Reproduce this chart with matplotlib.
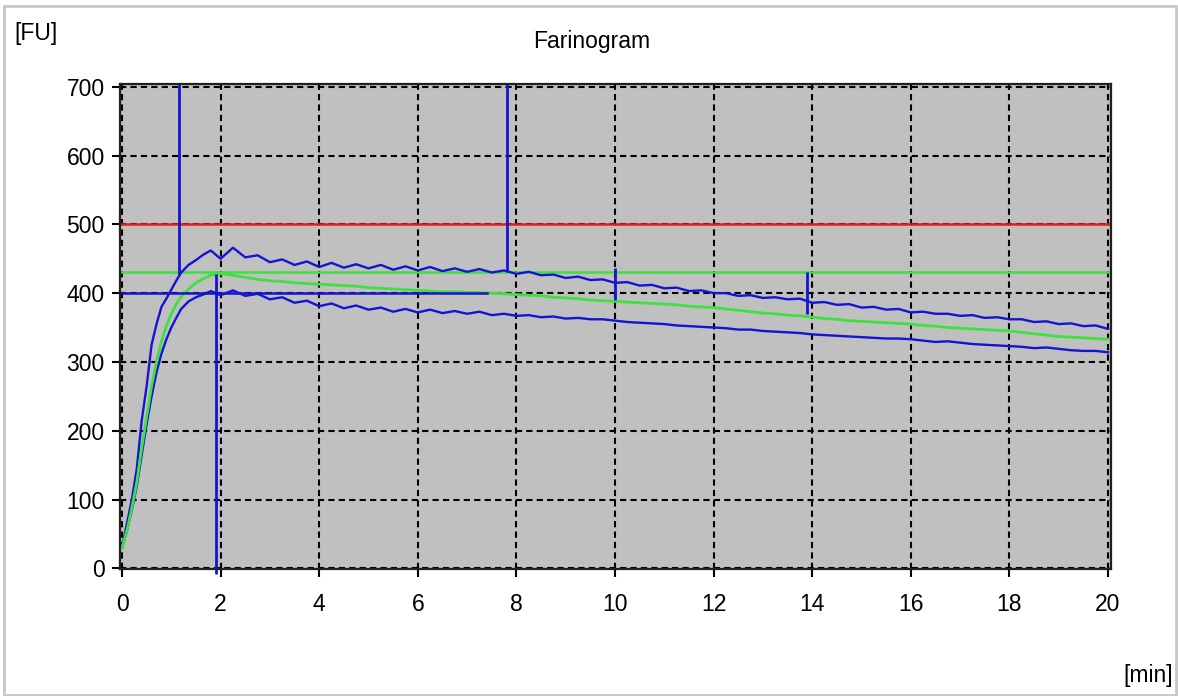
import matplotlib
matplotlib.use("Agg")
import matplotlib.pyplot as plt
from matplotlib.patches import Rectangle

# time axis in minutes
time = [0, 0.1, 0.2, 0.3, 0.4, 0.5, 0.6, 0.7, 0.8, 0.9, 1.0, 1.1, 1.2, 1.35, 1.5, 1.65, 1.8, 2.0,
        2.25, 2.5, 2.75, 3.0, 3.25, 3.5, 3.75, 4.0, 4.25, 4.5, 4.75, 5.0, 5.25, 5.5, 5.75, 6.0,
        6.25, 6.5, 6.75, 7.0, 7.25, 7.5, 7.75, 8.0, 8.25, 8.5, 8.75, 9.0, 9.25, 9.5, 9.75, 10.0,
        10.25, 10.5, 10.75, 11.0, 11.25, 11.5, 11.75, 12.0, 12.25, 12.5, 12.75, 13.0, 13.25, 13.5,
        13.75, 14.0, 14.25, 14.5, 14.75, 15.0, 15.25, 15.5, 15.75, 16.0, 16.25, 16.5, 16.75, 17.0,
        17.25, 17.5, 17.75, 18.0, 18.25, 18.5, 18.75, 19.0, 19.25, 19.5, 19.75, 20.0]

upper = [30, 65, 100, 145, 215, 265, 325, 355, 380, 392, 405, 418, 430, 441, 448, 456, 462, 450,
         466, 452, 455, 445, 449, 441, 446, 438, 444, 437, 442, 436, 441, 434, 439, 433,
         438, 432, 436, 431, 435, 430, 433, 428, 431, 426, 427, 422, 424, 419, 420, 415,
         416, 411, 412, 407, 408, 403, 404, 400, 400, 396, 397, 393, 394, 391,
         392, 386, 387, 383, 384, 379, 380, 376, 377, 372, 373, 370, 370, 367,
         368, 364, 365, 362, 362, 358, 359, 355, 356, 352, 353, 348]

lower = [30, 55, 85, 120, 165, 210, 250, 285, 312, 333, 350, 364, 377, 388, 394, 398, 403, 397,
         404, 396, 399, 391, 394, 386, 389, 381, 385, 378, 382, 376, 379, 373, 377, 372,
         376, 371, 374, 370, 373, 368, 370, 367, 368, 365, 366, 363, 364, 362, 362, 360,
         358, 357, 356, 355, 353, 352, 351, 350, 349, 347, 347, 345, 344, 343,
         342, 340, 339, 338, 337, 336, 335, 334, 334, 333, 331, 329, 330, 328,
         326, 325, 324, 323, 322, 320, 321, 319, 317, 316, 316, 314]

median = [30, 55, 88, 125, 175, 220, 265, 300, 330, 352, 370, 384, 395, 406, 415, 421, 426, 428,
          426, 423, 420, 418, 417, 415, 414, 413, 412, 411, 410, 408, 407, 406, 405, 404,
          403, 402, 402, 401, 401, 400, 399, 398, 397, 396, 394, 393, 392, 390, 389, 388,
          387, 386, 385, 384, 383, 381, 380, 379, 377, 375, 373, 371, 370, 368,
          367, 365, 363, 362, 360, 359, 358, 357, 356, 355, 353, 352, 350, 349,
          348, 347, 346, 345, 343, 341, 339, 337, 336, 335, 334, 333]

# reference levels
line_500 = 500
line_430 = 430
line_400 = 400
line_400_end = 7.4

# vertical evaluation markers: x, y from, y to
marker_x = [1.15, 1.9, 7.8, 10.0, 13.9]
marker_y0 = [427, -8, 431, 390, 369]
marker_y1 = [704, 428, 704, 437, 431]

xticks = [0, 2, 4, 6, 8, 10, 12, 14, 16, 18, 20]
yticks = [0, 100, 200, 300, 400, 500, 600, 700]

BLUE = "#1414d2"
GREEN = "#40e040"
RED = "#e02020"

plt.rcParams["font.family"] = ["Liberation Sans", "DejaVu Sans"]

fig = plt.figure(figsize=(11.78, 6.96), dpi=100)
fig.patch.set_facecolor("white")
fig.patches.append(Rectangle((0.003, 0.002), 0.995, 0.99, transform=fig.transFigure,
                             fill=False, edgecolor="#c8c8c8", linewidth=2))

ax = fig.add_axes([0.1019, 0.1825, 0.8412, 0.6968])
ax.set_facecolor("#c0c0c0")
ax.set_xlim(-0.04, 20.06)
ax.set_ylim(-1, 704)

ax.grid(True, color="black", linestyle=(0, (3, 2)), linewidth=1.5)
ax.set_axisbelow(True)

ax.axhline(line_430, color=GREEN, linewidth=1.8)
ax.axhline(line_500, color=RED, linewidth=1.8)
ax.plot(time, upper, color=BLUE, linewidth=1.7)
ax.plot(time, lower, color=BLUE, linewidth=1.7)
ax.plot(time, median, color=GREEN, linewidth=2.0)
ax.plot([0, line_400_end], [line_400, line_400], color=BLUE, linewidth=1.8)
ax.vlines(marker_x, marker_y0, marker_y1, color=BLUE, linewidth=2.0, clip_on=False)

ax.set_xticks(xticks)
ax.set_yticks(yticks)
ax.tick_params(axis="both", direction="out", length=6, width=1.5, color="black",
               labelsize=16.5)
ax.tick_params(axis="x", pad=11)
ax.tick_params(axis="y", pad=5)
for spine in ax.spines.values():
    spine.set_linewidth(1.6)
    spine.set_color("#202020")

fig.text(0.012, 0.952, "[FU]", fontsize=16.5, ha="left", va="center")
fig.text(0.502, 0.94, "Farinogram", fontsize=16.5, ha="center", va="center")
fig.text(0.996, 0.029, "[min]", fontsize=16.5, ha="right", va="center")

fig.savefig("out.png", dpi=100)
